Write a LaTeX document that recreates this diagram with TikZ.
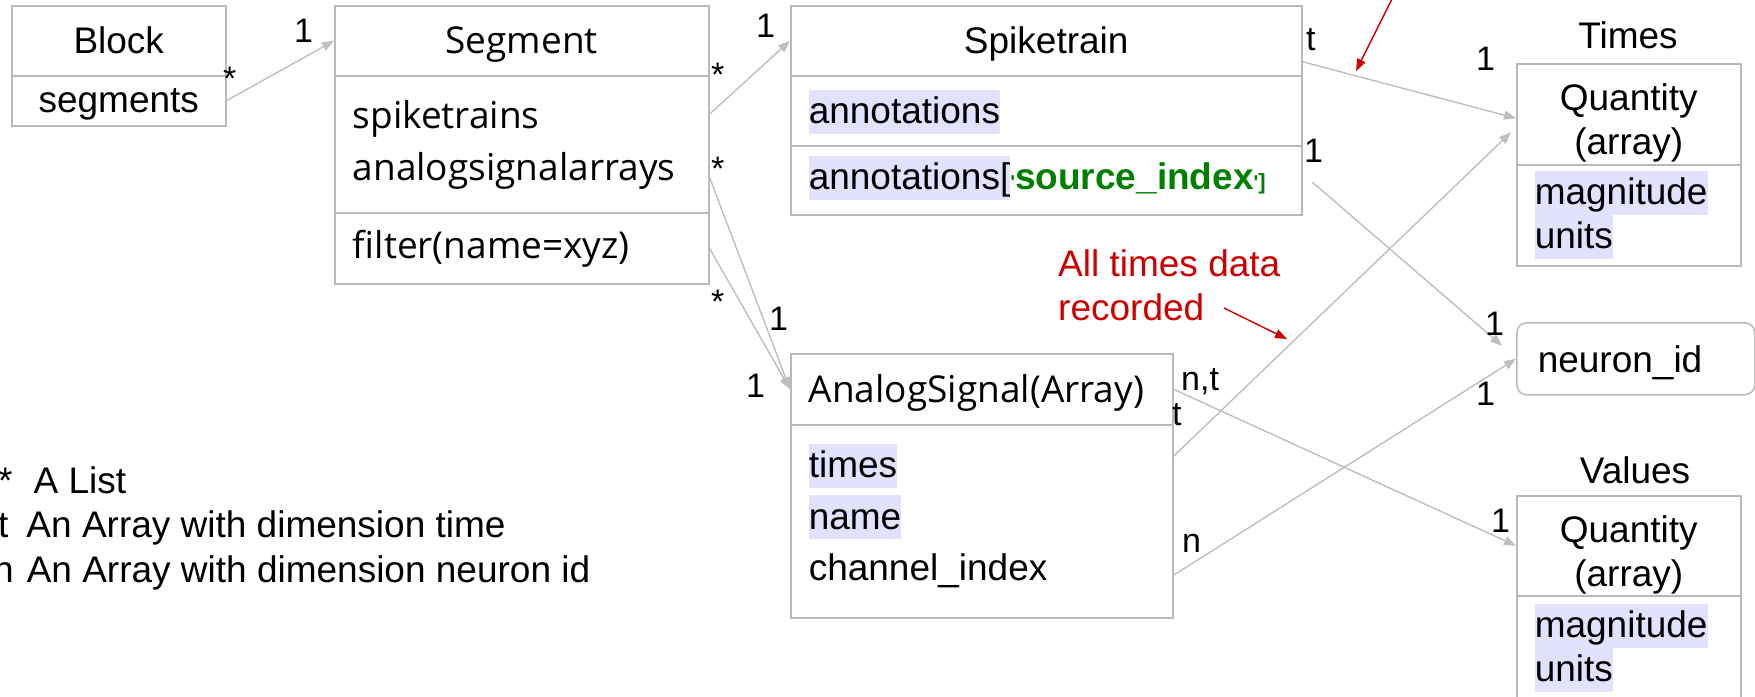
\documentclass[tikz,border=0pt]{standalone}
\usepackage{fontspec}
\setmainfont{Liberation Sans}
\newfontfamily\osans{Open Sans}
\usetikzlibrary{arrows.meta}

\definecolor{boxgray}{RGB}{185,185,185}
\definecolor{linegray}{RGB}{190,190,190}
\definecolor{hilite}{RGB}{226,226,255}
\definecolor{notered}{RGB}{204,0,0}
\definecolor{keygreen}{RGB}{0,128,0}

\newcommand{\boxfont}{\fontsize{37}{44}\selectfont}
\newcommand{\wideboxfont}{\fontsize{37}{51.5}\selectfont}
\newcommand{\segfont}{\osans\fontsize{37}{52}\selectfont}
\newcommand{\tagfont}{\fontsize{34}{40}\selectfont}
\newcommand{\hilight}[1]{{\setlength{\fboxsep}{0pt}\colorbox{hilite}{\rule[-10pt]{0pt}{44pt}#1}}}
\newcommand{\tinyquote}{{\fontsize{20}{20}\selectfont\textquotesingle}}

\tikzset{
  comp/.style={draw=boxgray, line width=1.5pt, anchor=north west,
    inner xsep=18pt, inner ysep=0pt, font=\boxfont},
  head/.style={comp, align=center},
  body/.style={comp, align=left},
  link/.style={draw=linegray, line width=1.4pt, -{Triangle[length=12pt,width=9pt]}},
  note/.style={draw=notered, line width=1.4pt, -{Triangle[length=12pt,width=9pt]}},
  tag/.style={anchor=base west, inner sep=0pt, font=\tagfont},
  key/.style={anchor=base west, inner sep=0pt, font=\boxfont}
}

\begin{document}
\begin{tikzpicture}[x=1pt,y=-1pt]
\useasboundingbox (0,0) rectangle (1755,696);

% Block
\node[head, text width=178pt, text height=48pt, text depth=22pt] (blk-head) at (11,5) {Block};
\node[head, text width=178pt, text height=37pt, text depth=13pt] (blk-attr) at (11,75) {segments};

% Segment
\node[head, font=\segfont, text width=338pt, text height=48pt, text depth=22pt] (seg-head) at (334,5) {Segment};
\node[body, font=\segfont, text width=338pt, text height=53pt, text depth=84pt] (seg-attr) at (334,75) {spiketrains\\analogsignalarrays};
\node[body, font=\segfont, text width=338pt, text height=46pt, text depth=25pt] (seg-ops) at (334,212) {filter(name=xyz)};

% Spiketrain
\node[head, text width=475pt, text height=48pt, text depth=22pt] (st-head) at (790,5) {Spiketrain};
\node[body, text width=475pt, text height=48pt, text depth=22pt] (st-annot) at (790,75) {\hilight{annotations}};
\node[body, text width=475pt, text height=44pt, text depth=25pt] (st-src) at (790,145)
  {\hilight{annotations[}\textcolor{keygreen}{\bfseries\tinyquote source\_index\tinyquote{\fontsize{22}{22}\selectfont]}}};

% AnalogSignal
\node[body, font=\osans\boxfont, text width=346pt, text height=49pt, text depth=22pt] (as-head) at (790,353) {AnalogSignal(Array)};
\node[body, font=\wideboxfont, text width=346pt, text height=53pt, text depth=140pt] (as-attr) at (790,424)
  {\hilight{times}\\\hilight{name}\\channel\_index};

% Times quantity
\node[key, anchor=base] (times-title) at (1628,48) {Times};
\node[head, text width=188pt, text height=47pt, text depth=54pt] (times-head) at (1516,63) {Quantity\\(array)};
\node[body, text width=188pt, text height=40pt, text depth=61pt] (times-attr) at (1516,164) {\hilight{magnitude}\\\hilight{units}};

% neuron id
\node[body, rounded corners=10pt, inner xsep=21pt, text width=196pt, text height=50pt, text depth=22pt] (nid) at (1516,322) {neuron\_id};

% Values quantity
\node[key, anchor=base] (val-title) at (1635,483) {Values};
\node[head, text width=188pt, text height=47pt, text depth=53pt] (val-head) at (1516,495) {Quantity\\(array)};
\node[body, text width=188pt, text height=42pt, text depth=78pt] (val-attr) at (1516,595) {\hilight{magnitude}\\\hilight{units}};

% connectors
\draw[link] (blk-attr.east) -- (seg-head.west);
\draw[link] ([yshift=30pt]seg-attr.east) -- (st-head.west);
\draw[link] ([yshift=-33pt]seg-attr.east) -- (as-head.west);
\draw[link] (seg-ops.east) -- (as-head.west);
\draw[link] ([yshift=-21pt]st-head.east) -- ([yshift=-4pt]times-head.west);
\draw[link] ([xshift=10pt,yshift=-2pt]st-src.east) -- ([xshift=-14pt,yshift=13pt]nid.west);
\draw[link] ([yshift=65pt]as-attr.east) -- ([xshift=-5pt,yshift=-18pt]times-head.west);
\draw[link] ([yshift=-54pt]as-attr.east) -- (nid.west);
\draw[link] (as-head.east) -- (val-head.west);

% multiplicities
\node[tag] (m-blk) at (223,90) {*};
\node[tag] (m-seg) at (294,42) {1};
\node[tag] (m-segst) at (711,86) {*};
\node[tag] (m-st) at (756,37) {1};
\node[tag] (m-segas) at (711,180) {*};
\node[tag] (m-ops) at (711,313) {*};
\node[tag] (m-as1) at (769,330) {1};
\node[tag] (m-as2) at (746,397) {1};
\node[tag] (m-stt) at (1306,50) {t};
\node[tag] (m-times1) at (1476,70) {1};
\node[tag] (m-src) at (1304,162) {1};
\node[tag] (m-nid1) at (1485,335) {1};
\node[tag] (m-nid2) at (1476,405) {1};
\node[tag] (m-nt) at (1181,390) {n,t};
\node[tag] (m-ast) at (1172,425) {t};
\node[tag] (m-asn) at (1182,552) {n};
\node[tag] (m-val) at (1491,532) {1};

% remarks in red
\node[key, align=left, font=\boxfont, text=notered] (rec-note) at (1058,320) {All times data\\recorded};
\coordinate (up-tail) at (1404,-25);
\coordinate (up-tip) at (1356,71);
\coordinate (rec-tail) at (1224,308);
\coordinate (rec-tip) at (1287,339);
\draw[note] (up-tail) -- (up-tip);
\draw[note] (rec-tail) -- (rec-tip);

% legend
\node[key] (key-list) at (-2,493) {*\hspace{21pt}A List};
\node[key] (key-time) at (-2,537) {t\hspace{18pt}An Array with dimension time};
\node[key] (key-id) at (-7,582) {n\hspace{13pt}An Array with dimension neuron id};
\end{tikzpicture}
\end{document}
